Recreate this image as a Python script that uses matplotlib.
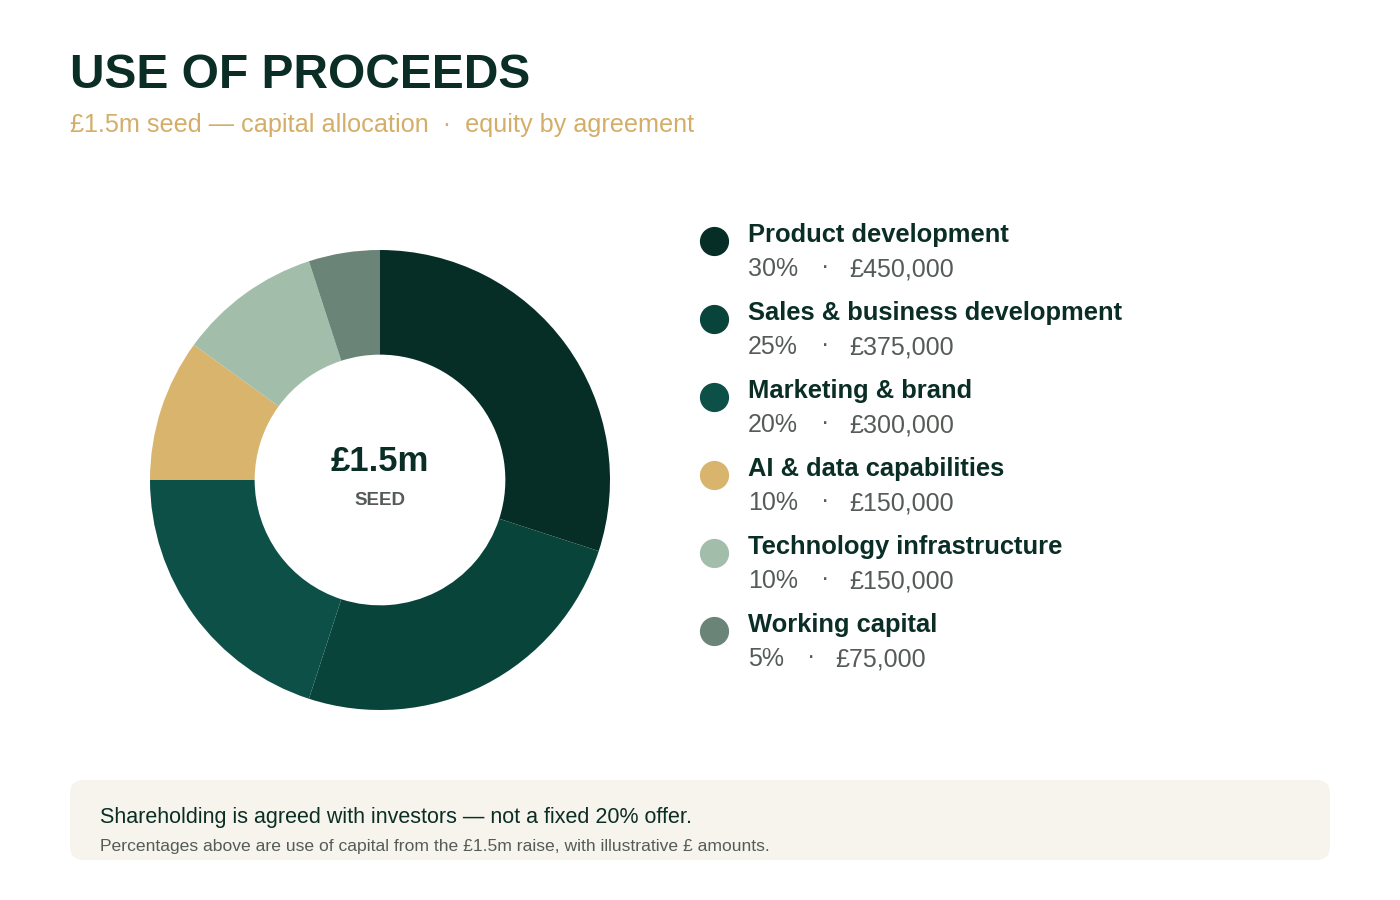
import matplotlib.pyplot as plt
from matplotlib.patches import FancyBboxPatch

plt.rcParams['font.family'] = ['Liberation Sans', 'DejaVu Sans']

categories = ['Product development', 'Sales & business development', 'Marketing & brand',
              'AI & data capabilities', 'Technology infrastructure', 'Working capital']
shares = [30, 25, 20, 10, 10, 5]
amounts = ['£450,000', '£375,000', '£300,000', '£150,000', '£150,000', '£75,000']
colors = ['#062e26', '#08443a', '#0d5048', '#d8b46c', '#a3bdab', '#6b8478']

DARK = '#0a2e25'
GOLD = '#d4ae68'
GREY = '#555c58'

fig = plt.figure(figsize=(14, 9), dpi=100)
fig.patch.set_facecolor('white')

# overlay in pixel coordinates
ov = fig.add_axes([0, 0, 1, 1])
ov.set_xlim(0, 1400)
ov.set_ylim(900, 0)
ov.axis('off')

ov.text(70, 75, 'USE OF PROCEEDS', fontsize=34.5, fontweight='bold', color=DARK, va='center')
ov.text(70, 125, '£1.5m seed — capital allocation  ·  equity by agreement',
        fontsize=18.2, color=GOLD, va='center')

# donut
ax = fig.add_axes([150 / 1400, 1 - 710 / 900, 460 / 1400, 460 / 900])
ax.pie(shares, colors=colors, startangle=90, counterclock=False, radius=1,
       wedgeprops=dict(width=0.455, linewidth=0))
ax.set_xlim(-1, 1)
ax.set_ylim(-1, 1)
ax.set_aspect('equal')
ax.text(0, 0.08, '£1.5m', ha='center', va='center', fontsize=25, fontweight='bold', color=DARK)
ax.text(0, -0.09, 'SEED', ha='center', va='center', fontsize=13.5, fontweight='bold', color=GREY)

# legend
for i, (cat, s, amt, c) in enumerate(zip(categories, shares, amounts, colors)):
    y = 235 + i * 78
    ov.scatter([714], [y + 6], s=400, color=c, zorder=3)
    ov.text(748, y, cat, fontsize=18.4, fontweight='bold', color=DARK, va='center')
    ov.text(748, y + 34, f'{s}%', fontsize=18, color=GREY, va='center')
    dx = 73 if s >= 10 else 59
    ov.text(748 + dx, y + 32, '·', fontsize=18, color=GREY, va='center')
    ov.text(748 + dx + 28, y + 34, amt, fontsize=18, color=GREY, va='center')

# footer box
box = FancyBboxPatch((70, 780), 1260, 80, boxstyle='round,pad=0,rounding_size=14',
                     facecolor='#f6f4ec', edgecolor='none')
ov.add_patch(box)
ov.text(100, 817, 'Shareholding is agreed with investors — not a fixed 20% offer.',
        fontsize=15.5, color=DARK, va='center')
ov.text(100, 846, 'Percentages above are use of capital from the £1.5m raise, with illustrative £ amounts.',
        fontsize=12.6, color=GREY, va='center')

fig.savefig('out.png', dpi=100)
